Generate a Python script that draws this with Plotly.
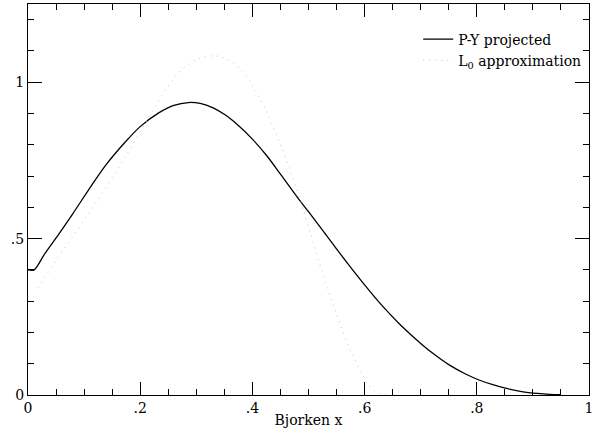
import plotly.graph_objects as go

# P-Y projected (solid)
py_x = [0.0, 0.011, 0.03, 0.054, 0.08, 0.114, 0.14, 0.173, 0.2, 0.233, 0.26, 0.286,
        0.307, 0.33, 0.352, 0.367, 0.4, 0.426, 0.45, 0.486, 0.5, 0.545, 0.57, 0.6,
        0.63, 0.664, 0.7, 0.724, 0.75, 0.78, 0.804, 0.83, 0.855, 0.88, 0.908, 0.93, 0.95]
py_y = [0.4, 0.4, 0.452, 0.512, 0.58, 0.672, 0.738, 0.808, 0.858, 0.902, 0.926, 0.935,
        0.932, 0.918, 0.895, 0.874, 0.818, 0.764, 0.706, 0.618, 0.586, 0.479, 0.42, 0.352,
        0.288, 0.224, 0.165, 0.13, 0.097, 0.067, 0.048, 0.032, 0.02, 0.011, 0.005, 0.002, 0.001]

# L0 approximation (dotted)
l0_x = [0.018, 0.054, 0.114, 0.173, 0.221, 0.245, 0.274, 0.3, 0.316, 0.34, 0.361, 0.382,
        0.4, 0.423, 0.443, 0.471, 0.492, 0.504, 0.524, 0.55, 0.575, 0.593, 0.605, 0.62, 0.64]
l0_y = [0.343, 0.44, 0.595, 0.76, 0.905, 0.975, 1.04, 1.072, 1.082, 1.083, 1.068, 1.036,
        0.99, 0.915, 0.832, 0.7, 0.585, 0.515, 0.395, 0.258, 0.142, 0.076, 0.038, 0.01, 0.0]

x_tickvals = [0, 0.2, 0.4, 0.6, 0.8, 1.0]
x_ticktext = ["0", ".2", ".4", ".6", ".8", "1"]
y_tickvals = [0, 0.5, 1.0]
y_ticktext = ["0", ".5", "1"]

FONT = "DejaVu Serif"

fig = go.Figure()
fig.add_trace(go.Scatter(x=py_x, y=py_y, mode="lines", name="P-Y projected",
                         line=dict(color="black", width=1.3, shape="spline", smoothing=0.8)))
fig.add_trace(go.Scatter(x=l0_x, y=l0_y, mode="lines", name="L<sub>0</sub> approximation",
                         line=dict(color="#c4c4c4", width=1, dash="1px,5px",
                                   shape="spline", smoothing=0.8)))

axis_common = dict(
    showgrid=False, zeroline=False, showline=True, linecolor="black", linewidth=1,
    mirror="ticks", ticks="inside", tickcolor="black", tickwidth=1,
    tickfont=dict(family=FONT, size=14, color="black"),
)

fig.update_xaxes(range=[0, 1], tickmode="array", tickvals=x_tickvals, ticktext=x_ticktext,
                 ticklen=13,
                 minor=dict(dtick=0.05, ticks="inside", ticklen=6, tickcolor="black", tickwidth=1),
                 title=dict(text="Bjorken x", font=dict(family=FONT, size=14, color="black"),
                            standoff=0),
                 **axis_common)
fig.update_yaxes(range=[0, 1.25], tickmode="array", tickvals=y_tickvals, ticktext=y_ticktext,
                 ticklen=14,
                 minor=dict(dtick=0.1, ticks="inside", ticklen=6, tickcolor="black", tickwidth=1),
                 **axis_common)

fig.update_layout(
    width=600, height=431,
    margin=dict(l=28, r=11, t=4, b=36, autoexpand=False),
    plot_bgcolor="white", paper_bgcolor="white",
    font=dict(family=FONT, size=13, color="black"),
    legend=dict(x=0.995, y=0.95, xanchor="right", yanchor="top",
                bgcolor="rgba(0,0,0,0)", font=dict(family=FONT, size=14, color="black"),
                tracegroupgap=0, itemwidth=30),
    showlegend=True,
)

fig.write_html("out.html", config={"displayModeBar": False},
               post_script="document.body.style.margin='0';")
